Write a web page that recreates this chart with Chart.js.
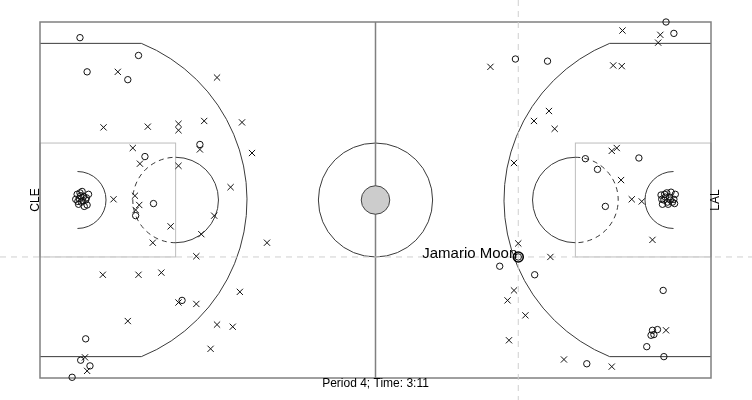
<!DOCTYPE html>
<html>
<head>
<meta charset="utf-8">
<script src="https://cdn.jsdelivr.net/npm/chart.js@4/dist/chart.umd.min.js"></script>
<style>
html,body{margin:0;padding:0;background:#fff;}
#wrap{width:752px;height:400px;}
</style>
</head>
<body>
<div id="wrap"><canvas id="c" width="752" height="400"></canvas></div>
<script>
// Shot locations in feet (court 94 x 50, y measured from top sideline)
const madeX = [5.6,13.8,6.6,12.3,22.4,14.7,15.9,13.4,19.9,6.4,5.7,7.0,4.5,
  5.2,5.5,5.8,6.1,5.4,6.4,6.8,5.9,6.6,5.0,6.2,5.6,5.3,6.0,6.5,5.7,
  87.7,88.8,66.6,71.1,83.9,76.4,78.1,79.2,67.0,64.4,69.3,87.3,85.8,86.5,85.6,86.0,85.0,87.4,76.6,
  87.0,87.4,87.8,88.2,88.6,89.0,87.2,88.0,88.8,87.6,88.4,87.1,88.3,87.9,88.9,87.5];
const madeY = [2.2,4.7,7.0,8.1,17.2,18.9,25.5,27.2,39.1,44.5,47.5,48.3,49.9,
  24.2,24.8,25.3,24.5,25.6,25.0,24.2,23.8,25.7,24.9,25.9,24.0,25.2,25.1,24.7,24.4,
  0.0,1.6,5.2,5.5,19.1,19.2,20.7,25.9,33.0,34.3,35.5,37.7,43.3,43.2,44.0,43.9,45.6,47.0,48.0,
  24.3,25.0,24.0,24.6,25.3,24.2,25.6,25.6,24.9,24.6,23.9,24.9,25.0,25.3,25.5,24.2];
const missX = [10.9,24.8,8.9,15.1,19.4,19.4,23.0,28.3,22.4,29.7,13.0,14.0,19.4,26.7,10.3,13.3,13.9,13.4,24.4,18.3,22.6,15.8,31.8,21.9,8.8,13.8,17.0,28.0,19.4,21.9,12.3,24.8,27.0,23.9,6.3,6.6,
  81.6,86.9,86.6,63.1,80.3,81.5,71.3,69.2,72.1,66.4,80.1,80.8,81.4,82.9,84.3,85.8,67.0,71.5,66.4,65.5,68.0,65.7,87.7,73.4,80.1];
const missY = [7.0,7.8,14.8,14.7,14.3,15.2,13.9,14.1,17.9,18.4,17.7,19.9,20.2,23.2,24.9,24.4,25.7,26.4,27.2,28.7,29.8,31.0,31.0,32.9,35.5,35.5,35.2,37.9,39.4,39.6,42.0,42.5,42.8,45.9,47.1,49.0,
  1.2,1.8,2.9,6.3,6.1,6.2,12.5,13.9,15.0,19.8,18.1,17.7,22.2,24.9,25.2,30.6,31.1,33.0,37.7,39.1,41.2,44.7,43.3,47.4,48.4];
const focusPlayer = "Jamario Moon";
const focusX = [67.0];
const focusY = [33.0];
const teamLeft = "CLE";
const teamRight = "LAL";
const caption = "Period 4; Time: 3:11";

const toPts = (xs, ys) => xs.map((x, i) => ({x: x, y: ys[i]}));

const courtPlugin = {
  id: 'court',
  beforeDatasetsDraw(chart) {
    const ctx = chart.ctx, xs = chart.scales.x, ys = chart.scales.y;
    const X = v => xs.getPixelForValue(v), Y = v => ys.getPixelForValue(v);
    const kx = Math.abs(X(1) - X(0)), ky = Math.abs(Y(1) - Y(0));
    function arc(cx, cy, r, a0, a1, ccw) {
      ctx.beginPath();
      ctx.ellipse(X(cx), Y(cy), r * kx, r * ky, 0, a0, a1, !!ccw);
      ctx.stroke();
    }
    function line(x0, y0, x1, y1) {
      ctx.beginPath(); ctx.moveTo(X(x0), Y(y0)); ctx.lineTo(X(x1), Y(y1)); ctx.stroke();
    }
    ctx.save();
    // lanes
    ctx.strokeStyle = '#bdbdbd'; ctx.lineWidth = 1;
    ctx.strokeRect(X(0), Y(17), X(19) - X(0), Y(33) - Y(17));
    ctx.strokeRect(X(75), Y(17), X(94) - X(75), Y(33) - Y(17));
    // dark court markings
    ctx.strokeStyle = '#3a3a3a'; ctx.lineWidth = 1;
    const H = Math.PI / 2;
    const ang = Math.asin(22 / 23.75);
    const cw = Math.sqrt(23.75*23.75 - 22*22);
    line(0, 3, 5.25 + cw, 3);
    line(0, 47, 5.25 + cw, 47);
    arc(5.25, 25, 23.75, -ang, ang);
    line(94, 3, 88.75 - cw, 3);
    line(94, 47, 88.75 - cw, 47);
    arc(88.75, 25, 23.75, Math.PI - ang, Math.PI + ang);
    // restricted arcs
    arc(5.25, 25, 4, -H, H);
    arc(88.75, 25, 4, H, 3 * H);
    // free throw circles
    arc(19, 25, 6, -H, H);
    arc(75, 25, 6, H, 3 * H);
    ctx.setLineDash([5, 4]);
    arc(19, 25, 6, H, 3 * H);
    arc(75, 25, 6, -H, H);
    ctx.setLineDash([]);
    // center circle
    arc(47, 25, 8, 0, 2 * Math.PI);
    // outer boundary and mid line
    ctx.strokeStyle = '#808080'; ctx.lineWidth = 1.5;
    line(47, 0, 47, 50);
    ctx.strokeRect(X(0), Y(0), X(94) - X(0), Y(50) - Y(0));
    // center filled circle
    ctx.beginPath();
    ctx.ellipse(X(47), Y(25), 2 * kx, 2 * ky, 0, 0, 2 * Math.PI);
    ctx.fillStyle = '#cccccc'; ctx.fill();
    ctx.strokeStyle = '#444'; ctx.lineWidth = 1; ctx.stroke();
    // crosshair at focus player
    const fx = X(focusX[0]), fy = Y(focusY[0]);
    ctx.strokeStyle = '#cfcfcf'; ctx.lineWidth = 1; ctx.setLineDash([6, 5]);
    ctx.beginPath(); ctx.moveTo(0, fy); ctx.lineTo(chart.width, fy); ctx.stroke();
    ctx.beginPath(); ctx.moveTo(fx, 0); ctx.lineTo(fx, chart.height); ctx.stroke();
    ctx.setLineDash([]);
    ctx.restore();
  },
  afterDraw(chart) {
    const ctx = chart.ctx, xs = chart.scales.x, ys = chart.scales.y;
    const X = v => xs.getPixelForValue(v), Y = v => ys.getPixelForValue(v);
    ctx.save();
    ctx.fillStyle = '#000';
    ctx.font = '15px "Liberation Sans", Arial, sans-serif';
    ctx.textAlign = 'right'; ctx.textBaseline = 'alphabetic';
    ctx.fillText(focusPlayer, X(focusX[0]) - 1, Y(focusY[0]) + 1.5);
    ctx.font = '12px "Liberation Sans", Arial, sans-serif';
    ctx.textAlign = 'center'; ctx.textBaseline = 'top';
    ctx.fillText(caption, X(47), Y(50) - 0.5);
    ctx.font = '12px "Liberation Sans", Arial, sans-serif';
    ctx.textBaseline = 'middle';
    ctx.translate(X(0) - 4, Y(25)); ctx.rotate(-Math.PI / 2);
    ctx.fillText(teamLeft, 0, 0);
    ctx.setTransform(1, 0, 0, 1, 0, 0);
    ctx.translate(X(94) + 4.5, Y(25)); ctx.rotate(-Math.PI / 2);
    ctx.fillText(teamRight, 0, 0);
    ctx.restore();
  }
};

new Chart(document.getElementById('c'), {
  type: 'scatter',
  data: {
    datasets: [
      {label: 'made', data: toPts(madeX, madeY), pointStyle: 'circle', radius: 3.2,
       borderColor: '#111', backgroundColor: 'rgba(0,0,0,0)', borderWidth: 1, clip: false},
      {label: 'missed', data: toPts(missX, missY), pointStyle: 'crossRot', radius: 4.4,
       borderColor: '#111', backgroundColor: '#111', borderWidth: 1, clip: false},
      {label: 'focus', data: toPts(focusX, focusY), pointStyle: 'circle', radius: 5,
       borderColor: '#000', backgroundColor: 'rgba(0,0,0,0)', borderWidth: 1.5, clip: false}
    ]
  },
  options: {
    responsive: false,
    animation: false,
    events: [],
    layout: {padding: {left: 40, right: 41, top: 22, bottom: 22}},
    plugins: {legend: {display: false}, tooltip: {enabled: false}},
    scales: {
      x: {type: 'linear', min: 0, max: 94, display: false},
      y: {type: 'linear', min: 0, max: 50, reverse: true, display: false}
    }
  },
  plugins: [courtPlugin]
});
</script>
</body>
</html>
